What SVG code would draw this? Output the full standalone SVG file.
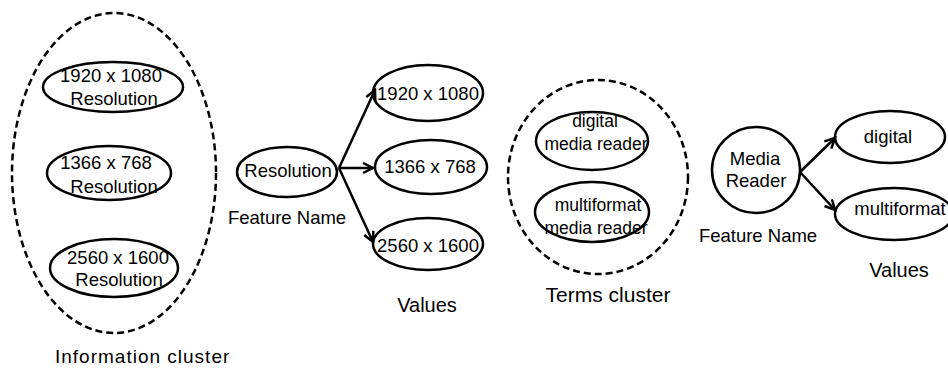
<svg xmlns="http://www.w3.org/2000/svg" width="948" height="368" viewBox="0 0 948 368">
<defs>
<style>
.n{fill:#fff;stroke:#000;stroke-width:2.5}
.d{fill:none;stroke:#000;stroke-width:2.5;stroke-dasharray:7 4}
text{font-family:"Liberation Sans",Arial,sans-serif;font-size:18.5px;fill:#000;text-anchor:middle}
.s{font-size:17.5px}
.c{stroke:#000;stroke-width:2.5;fill:none}
</style>
<marker id="ah" markerUnits="userSpaceOnUse" markerWidth="14" markerHeight="14" refX="11" refY="6" orient="auto">
<path d="M1,1 L11,6 L1,11" fill="none" stroke="#000" stroke-width="2.5"/>
</marker>
</defs>
<rect width="948" height="368" fill="#fff"/>
<g id="info-cluster">
<ellipse class="d" cx="114" cy="173" rx="102" ry="160"/>
<text x="55" y="363" style="font-size:19px;letter-spacing:1px;text-anchor:start">Information cluster</text>
</g>
<g id="info-1920">
<ellipse class="n" cx="113" cy="87" rx="70" ry="25"/>
<text x="111" y="82">1920 x 1080</text>
<text x="114" y="105">Resolution</text>
</g>
<g id="info-1366">
<ellipse class="n" cx="109" cy="173" rx="62" ry="27"/>
<text x="106" y="169">1366 x 768</text>
<text x="114" y="193">Resolution</text>
</g>
<g id="info-2560">
<ellipse class="n" cx="114" cy="268" rx="64" ry="29"/>
<text x="118" y="264">2560 x 1600</text>
<text x="119" y="286">Resolution</text>
</g>
<g id="feat-resolution">
<ellipse class="n" cx="287" cy="172" rx="50" ry="25"/>
<text x="288" y="177">Resolution</text>
<text x="287" y="224">Feature Name</text>
</g>
<g id="val-1920">
<ellipse class="n" cx="428" cy="93" rx="55" ry="28"/>
<text x="428" y="100">1920 x 1080</text>
</g>
<g id="val-1366">
<ellipse class="n" cx="431" cy="167" rx="56" ry="27"/>
<text x="430" y="173">1366 x 768</text>
</g>
<g id="val-2560">
<ellipse class="n" cx="428" cy="244" rx="55" ry="26"/>
<text x="428" y="252">2560 x 1600</text>
</g>
<text x="427" y="312" style="font-size:20px">Values</text>
<g id="terms-cluster">
<ellipse class="d" cx="598" cy="177" rx="90" ry="97"/>
<text x="608" y="302" style="font-size:21px">Terms cluster</text>
</g>
<g id="term-digital">
<ellipse class="n" cx="592" cy="141" rx="56" ry="29"/>
<text class="s" x="595" y="127">digital</text>
<text class="s" x="596" y="150">media reader</text>
</g>
<g id="term-multiformat">
<ellipse class="n" cx="592" cy="212" rx="57" ry="30"/>
<text class="s" x="598" y="211">multiformat</text>
<text class="s" x="596" y="234">media reader</text>
</g>
<g id="feat-media">
<ellipse class="n" cx="756" cy="170" rx="44" ry="43"/>
<text x="755" y="165">Media</text>
<text x="756" y="187">Reader</text>
<text x="758" y="242">Feature Name</text>
</g>
<g id="val-digital">
<ellipse class="n" cx="890" cy="137" rx="55" ry="26"/>
<text x="888" y="143">digital</text>
</g>
<g id="val-multiformat">
<ellipse class="n" cx="894" cy="214" rx="59" ry="26"/>
<text x="900" y="215">multiformat</text>
</g>
<text x="899" y="277" style="font-size:20px">Values</text>
<g id="connectors">
<line class="c" x1="339" y1="168" x2="375" y2="90" marker-end="url(#ah)"/>
<line class="c" x1="339" y1="168" x2="373" y2="168" marker-end="url(#ah)"/>
<line class="c" x1="339" y1="168" x2="373" y2="242" marker-end="url(#ah)"/>
<line class="c" x1="800" y1="172" x2="835" y2="138" marker-end="url(#ah)"/>
<line class="c" x1="800" y1="172" x2="835" y2="210" marker-end="url(#ah)"/>
</g>
</svg>
